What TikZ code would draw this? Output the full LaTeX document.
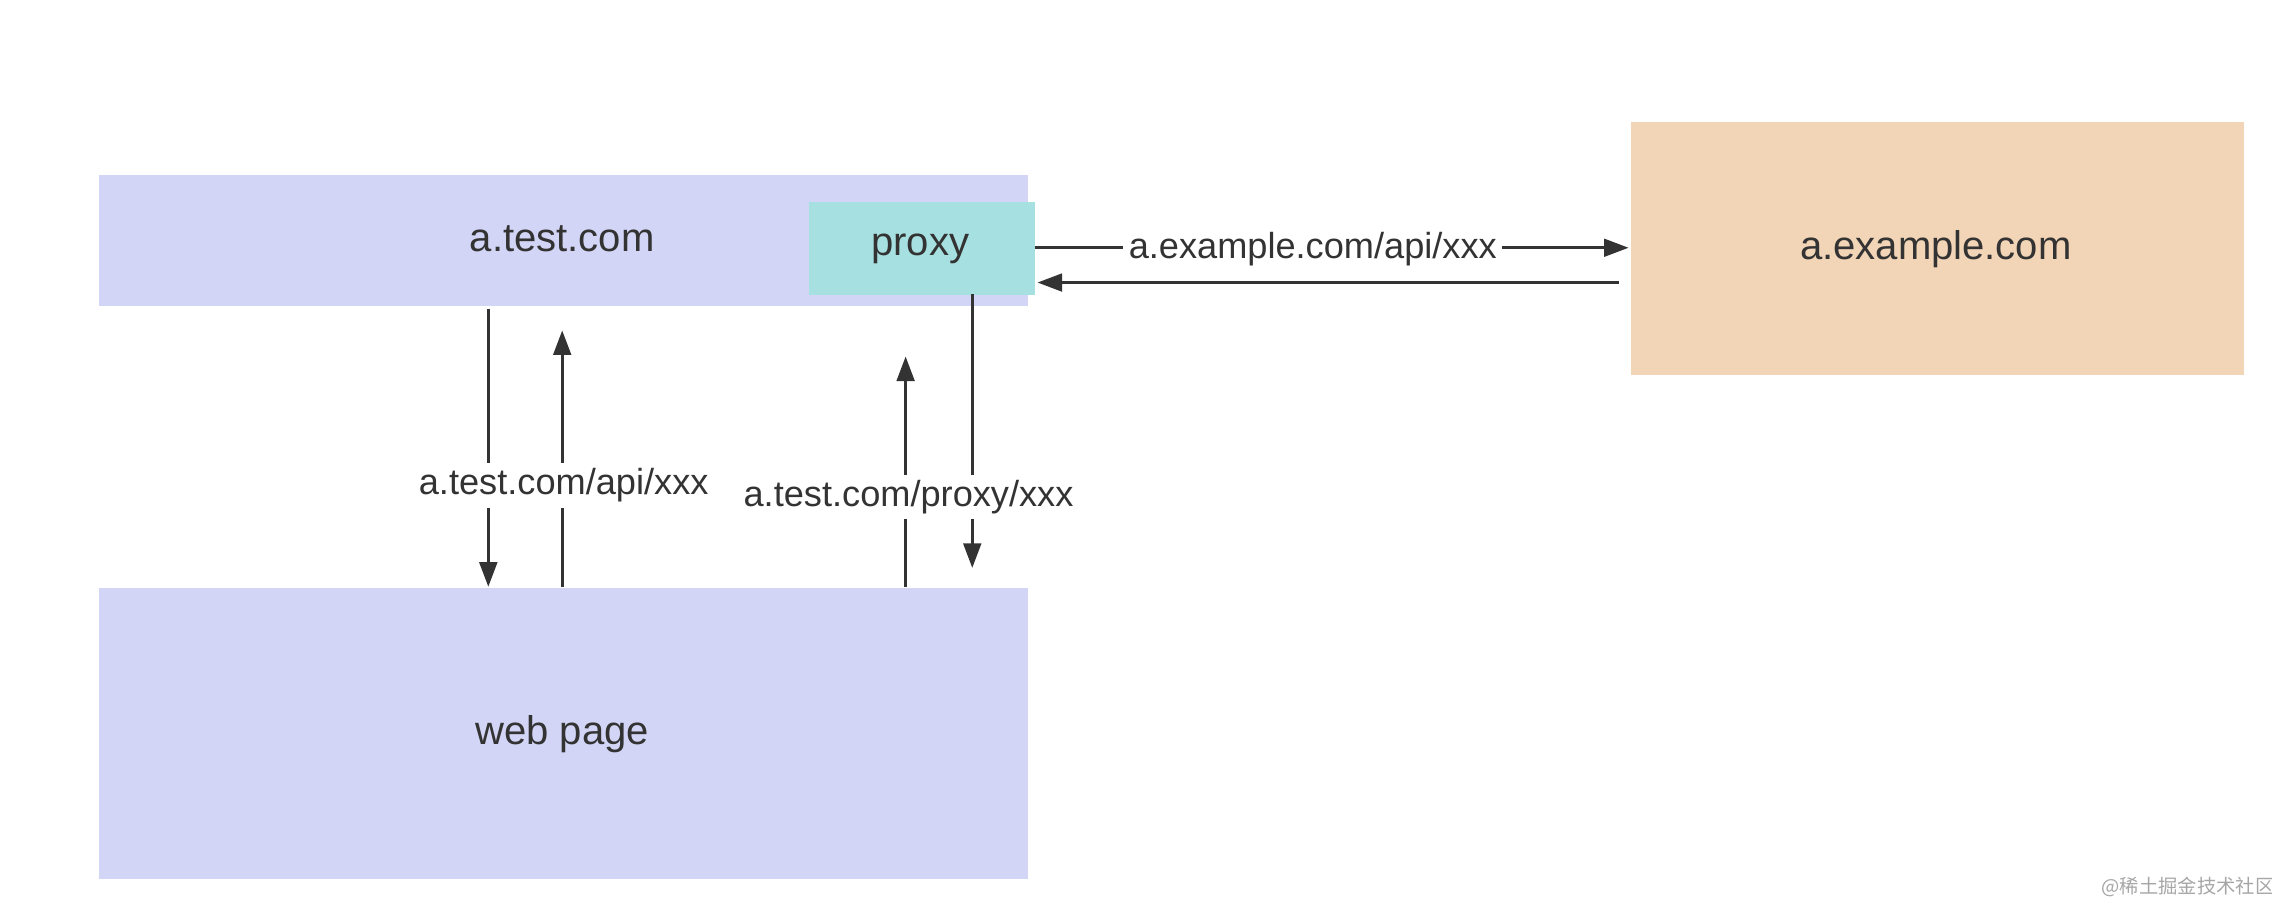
\documentclass[tikz,border=0pt]{standalone}
\usepackage{fontspec}
\setmainfont{Liberation Sans}
\newfontfamily\cjk{Noto Sans CJK SC}
\usetikzlibrary{arrows.meta}
\definecolor{lav}{HTML}{D2D5F5}
\definecolor{teal}{HTML}{A6E0E0}
\definecolor{peach}{HTML}{F2D4B6}
\definecolor{ink}{HTML}{333333}
\begin{document}
\begin{tikzpicture}[x=0.01449cm,y=-0.01449cm,
  box/.style={draw=none,inner sep=0pt,anchor=north west},
  txt/.style={text=ink,font=\fontsize{11.4}{13}\selectfont},
  arr/.style={draw=ink,line width=0.9pt,-{Triangle[length=7pt,width=5pt]}},
  lab/.style={fill=white,text=ink,inner sep=1.5pt,font=\fontsize{10.3}{12}\selectfont}]
\useasboundingbox (0,0) rectangle (1568,624);
\node[box,fill=lav,minimum width=641*0.01449cm,minimum height=91*0.01449cm] (test) at (68,120) {};
\node[txt] (testl) at (388,165) {a.test.com};
\node[box,fill=teal,minimum width=156*0.01449cm,minimum height=64*0.01449cm] (proxy) at (558,139) {};
\node[txt] (proxyl) at (635,172) {proxy};
\node[box,fill=peach,minimum width=423*0.01449cm,minimum height=174*0.01449cm] (ex) at (1125,84) {};
\node[txt] (exl) at (1336,172) {a.example.com};
\node[box,fill=lav,minimum width=641*0.01449cm,minimum height=201*0.01449cm] (web) at (68,405) {};
\node[txt] (webl) at (388,507) {web page};
\coordinate (a1) at (337,213); \coordinate (a2) at (337,405);
\coordinate (b1) at (388,405); \coordinate (b2) at (388,228);
\coordinate (c1) at (625,405); \coordinate (c2) at (625,246);
\coordinate (d1) at (671,203); \coordinate (d2) at (671,392);
\coordinate (e1) at (714,171); \coordinate (e2) at (1124,171);
\coordinate (f1) at (1117,195); \coordinate (f2) at (716,195);
\draw[arr] (a1) -- (a2);
\draw[arr] (b1) -- (b2);
\draw[arr] (c1) -- (c2);
\draw[arr] (d1) -- (d2);
\draw[arr] (e1) -- (e2);
\draw[arr] (f1) -- (f2);
\node[lab] (l1) at (389,335) {a.test.com/api/xxx};
\node[lab] (l2) at (627,343) {a.test.com/proxy/xxx};
\node[lab] (l3) at (906,172) {a.example.com/api/xxx};
\node[text=gray!70,font=\cjk\fontsize{5.5}{7}\selectfont] (wm) at (1510,612) {@稀土掘金技术社区};
\end{tikzpicture}
\end{document}
